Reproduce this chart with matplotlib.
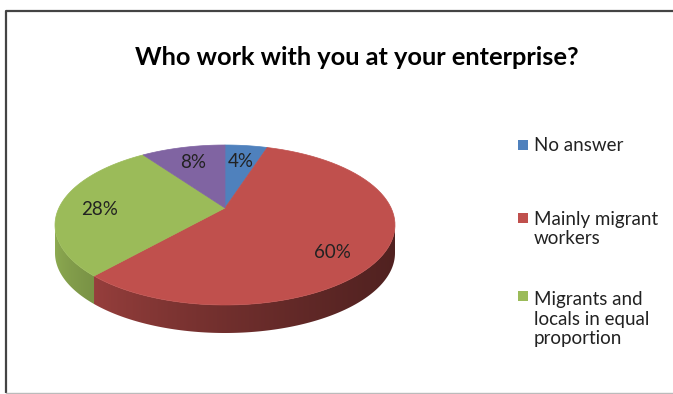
import matplotlib
matplotlib.use("Agg", force=True)
import matplotlib.pyplot as plt
from matplotlib.patches import Polygon, Rectangle
import numpy as np

title = "Who work with you at your enterprise?"
categories = ["No answer", "Mainly migrant\nworkers", "Migrants and\nlocals in equal\nproportion", ""]
shares = [4, 60, 28, 8]
labels = ["4%", "60%", "28%", "8%"]
colors = ["#4F81BD", "#C0504D", "#9BBB59", "#8064A2"]

# pie geometry in pixel space
W, H = 673, 394
cx, cy = 225, 225
rx, ry = 170, 80
depth = 28
apex_lift = 17


def edge(theta_deg, drop=0.0):
    t = np.radians(theta_deg)
    return cx + rx * np.sin(t), cy - ry * np.cos(t) + drop


fig = plt.figure(figsize=(W / 100, H / 100), dpi=100)
ax = fig.add_axes([0, 0, 1, 1])
ax.set_xlim(0, W)
ax.set_ylim(H, 0)
ax.axis("off")

# chart frame
ax.plot([5.5, 5.5, 680], [393, 10.5, 10.5], color="#444444", lw=1.6, solid_capstyle="butt")
ax.plot([5.5, 680], [393, 393], color="#bbbbbb", lw=1.0)

bounds = np.concatenate([[0], np.cumsum(shares)]) * 3.6

# side walls (front half only), filled with a horizontal light-to-dark ramp
xs = np.linspace(cx - rx, cx + rx, 200)
ramp = 0.92 - 0.5 * ((xs - xs[0]) / (xs[-1] - xs[0])) ** 0.6
for i, col in enumerate(colors):
    a0, a1 = max(bounds[i], 90), min(bounds[i + 1], 270)
    if a1 <= a0:
        continue
    th = np.linspace(a0, a1, 120)
    pts = [edge(t) for t in th] + [edge(t, depth) for t in th[::-1]]
    wall = Polygon(pts, closed=True, facecolor="none", edgecolor="none")
    ax.add_patch(wall)
    rgb = np.array(matplotlib.colors.to_rgb(col))
    img = np.clip(ramp[None, :, None] * rgb[None, None, :], 0, 1)
    im = ax.imshow(img, extent=(cx - rx - 1, cx + rx + 1, cy + ry + depth + 1, cy - ry),
                   aspect="auto", interpolation="bilinear", zorder=1)
    im.set_clip_path(wall)

# top faces
apex = (cx, cy - apex_lift)
for i, col in enumerate(colors):
    th = np.linspace(bounds[i], bounds[i + 1], 80)
    pts = [apex] + [edge(t) for t in th]
    ax.add_patch(Polygon(pts, closed=True, facecolor=col, edgecolor=col, lw=0.5, zorder=2))

# percentage labels
for i, lab in enumerate(labels):
    mid = (bounds[i] + bounds[i + 1]) / 2
    ex, ey = edge(mid)
    frac = 0.75
    lx = apex[0] + frac * (ex - apex[0])
    ly = apex[1] + frac * (ey - apex[1])
    ax.text(lx, ly, lab, ha="center", va="center", fontsize=13.5,
            family="Lato", color="#222222", zorder=3)

ax.text(357, 57, title, ha="center", va="center", fontsize=18.3,
        family="Lato", fontweight="bold", color="black")

# legend
legend_y = [145, 229, 319]
for col, name, y in zip(colors, categories, legend_y):
    if not name:
        continue
    nlines = name.count("\n") + 1
    top = y - (nlines - 1) * 23 / 2
    ax.add_patch(Rectangle((518, top - 5), 10, 10, facecolor=col, edgecolor="none"))
    ax.text(534, y, name, ha="left", va="center", fontsize=13.5, family="Lato",
            color="#222222", linespacing=1.2)

fig.savefig("out.png", dpi=100)
